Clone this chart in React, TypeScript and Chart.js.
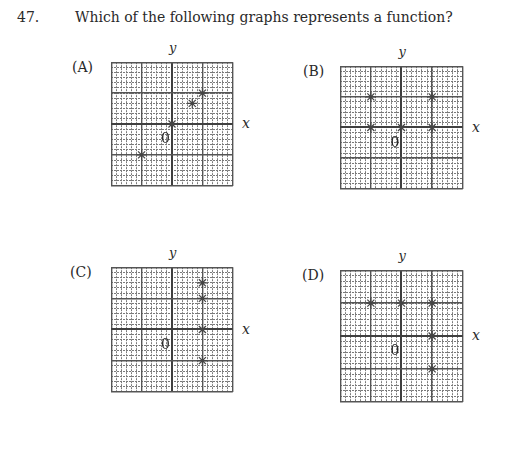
import { useEffect, useRef } from "react";
import { Chart, registerables } from "chart.js";

Chart.register(...registerables);

// Grid range (minor unit = 1, major line every 6 units)
const AXIS_MIN = -12;
const AXIS_MAX = 12;
const MINOR_STEP = 1;
const MAJOR_STEP = 6;

// Marked points of each graph
const pointsA = [
  { x: -6, y: -6 },
  { x: 0, y: 0 },
  { x: 4, y: 4 },
  { x: 6, y: 6 },
];
const pointsB = [
  { x: -6, y: 6 },
  { x: 6, y: 6 },
  { x: -6, y: 0 },
  { x: 0, y: 0 },
  { x: 6, y: 0 },
];
const pointsC = [
  { x: 6, y: 9 },
  { x: 6, y: 6 },
  { x: 6, y: 0 },
  { x: 6, y: -6 },
];
const pointsD = [
  { x: -6, y: 6 },
  { x: 0, y: 6 },
  { x: 6, y: 6 },
  { x: 6, y: 0 },
  { x: 6, y: -6 },
];

const optionLabels = ["(A)", "(B)", "(C)", "(D)"];
const questionNumber = "47.";
const questionText = "Which of the following graphs represents a function?";

const SERIF = "'DejaVu Serif', 'Liberation Serif', serif";

type Pt = { x: number; y: number };

function GridChart({ points, width, height }: { points: Pt[]; width: number; height: number }) {
  const ref = useRef<HTMLCanvasElement>(null);
  useEffect(() => {
    const minorScale = (axis: "x" | "y") => ({
      type: "linear" as const,
      axis,
      position: axis === "x" ? ("bottom" as const) : ("left" as const),
      min: AXIS_MIN,
      max: AXIS_MAX,
      ticks: { display: false, stepSize: MINOR_STEP },
      grid: { color: "#7a7a7a", lineWidth: 1, drawTicks: false },
      border: { display: false, dash: [2, 1] },
    });
    const majorScale = (axis: "x" | "y") => ({
      type: "linear" as const,
      axis,
      position: axis === "x" ? ("bottom" as const) : ("left" as const),
      min: AXIS_MIN,
      max: AXIS_MAX,
      ticks: { display: false, stepSize: MAJOR_STEP },
      grid: {
        color: (ctx: any) => (ctx.tick && ctx.tick.value === 0 ? "#3f3f3f" : "#555"),
        lineWidth: (ctx: any) => (ctx.tick && ctx.tick.value === 0 ? 2 : 1.4),
        drawTicks: false,
      },
      border: { display: false },
    });
    const chart = new Chart(ref.current!, {
      type: "scatter",
      data: {
        datasets: [
          {
            data: points,
            pointStyle: "star",
            pointRadius: 5,
            borderColor: "#444",
            backgroundColor: "#444",
            borderWidth: 1.2,
            clip: false as any,
          },
        ],
      },
      options: {
        animation: false,
        responsive: false,
        maintainAspectRatio: false,
        layout: { padding: 1 },
        plugins: { legend: { display: false }, tooltip: { enabled: false } },
        scales: {
          x: minorScale("x"),
          y: minorScale("y"),
          x2: majorScale("x"),
          y2: majorScale("y"),
        } as any,
      },
    });
    return () => chart.destroy();
  }, [points]);
  return <canvas ref={ref} width={width} height={height} style={{ display: "block", width, height }} />;
}

const abs = (left: number, top: number, extra: any = {}) => ({
  position: "absolute" as const,
  left,
  top,
  fontFamily: SERIF,
  color: "#2a2a2a",
  lineHeight: 1,
  whiteSpace: "nowrap" as const,
  ...extra,
});

function Panel({
  label,
  points,
  gx,
  gy,
  gw,
  gh,
  lx,
}: {
  label: string;
  points: Pt[];
  gx: number;
  gy: number;
  gw: number;
  gh: number;
  lx: number;
}) {
  const cx = gx + gw / 2;
  const cy = gy + gh / 2;
  return (
    <>
      <div style={abs(lx, gy + 3, { fontSize: 14 })}>{label}</div>
      <div style={abs(cx - 3, gy - 16, { fontSize: 13, fontStyle: "italic" })}>y</div>
      <div style={abs(gx + gw + 4, cy - 8, { fontSize: 14, fontStyle: "italic" })}>x</div>
      <div style={{ position: "absolute", left: gx - 1, top: gy - 1 }}>
        <GridChart points={points} width={gw + 2} height={gh + 2} />
      </div>
      <div style={abs(cx - 11, cy + 7, { fontSize: 14 })}>0</div>
    </>
  );
}

export default function App() {
  return (
    <div style={{ position: "absolute", left: 0, top: 0, width: 514, height: 450, background: "#fff" }}>
      <div style={abs(17, 10, { fontSize: 14 })}>{questionNumber}</div>
      <div style={abs(75, 10, { fontSize: 14 })}>{questionText}</div>
      <Panel label={optionLabels[0]} points={pointsA} gx={106} gy={57} gw={132} gh={134} lx={72} />
      <Panel label={optionLabels[1]} points={pointsB} gx={335} gy={61} gw={133} gh={133} lx={303} />
      <Panel label={optionLabels[2]} points={pointsC} gx={106} gy={262} gw={132} gh={135} lx={70} />
      <Panel label={optionLabels[3]} points={pointsD} gx={335} gy={265} gw={133} gh={142} lx={302} />
    </div>
  );
}
